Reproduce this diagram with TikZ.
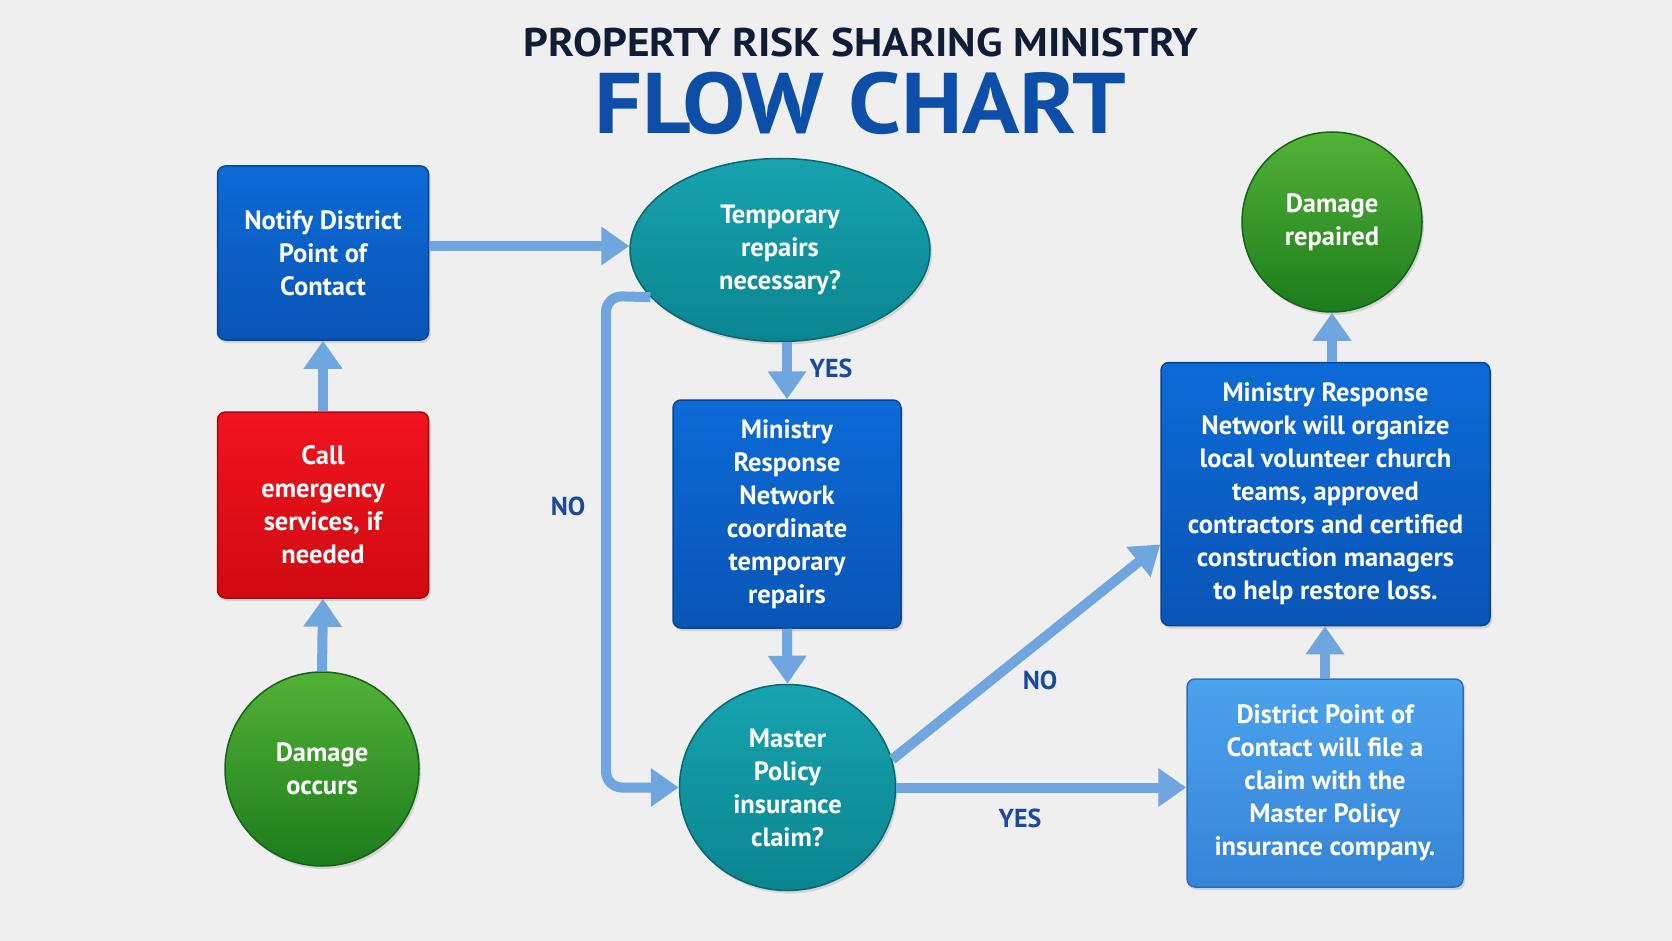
\documentclass[tikz,border=0pt]{standalone}
\usepackage{fontspec}
\setmainfont{PT Sans}
\usetikzlibrary{arrows.meta,shapes.geometric,shadows,calc}
\definecolor{bg}{HTML}{EFEFEF}
\definecolor{arrowc}{HTML}{6FA6E0}
\definecolor{lblc}{HTML}{1A4AA0}
\definecolor{titlea}{HTML}{0F1E36}
\definecolor{titleb}{HTML}{0D4FA8}
\definecolor{bluetop}{HTML}{0C6AD6}
\definecolor{bluebot}{HTML}{0A55B6}
\definecolor{blueedge}{HTML}{0A4592}
\definecolor{ltop}{HTML}{4CA2EC}
\definecolor{lbot}{HTML}{3584D8}
\definecolor{ledge}{HTML}{2A6EC0}
\definecolor{redtop}{HTML}{F0141E}
\definecolor{redbot}{HTML}{D00A12}
\definecolor{rededge}{HTML}{A80810}
\definecolor{greentop}{HTML}{52B236}
\definecolor{greenbot}{HTML}{1C7C1C}
\definecolor{greenedge}{HTML}{17621A}
\definecolor{tealtop}{HTML}{17A3AE}
\definecolor{tealbot}{HTML}{0A8590}
\definecolor{tealedge}{HTML}{086870}
\tikzset{
  txt/.style={text=white, font=\bfseries\fontsize{26.5}{33}\selectfont, align=center},
  shad/.style={drop shadow={opacity=0.25, shadow xshift=2pt, shadow yshift=-3pt}},
  bluebox/.style={txt, shad, rectangle, rounded corners=8pt, draw=blueedge, line width=1.5pt, top color=bluetop, bottom color=bluebot},
  lightbox/.style={txt, shad, rectangle, rounded corners=8pt, draw=ledge, line width=1.5pt, top color=ltop, bottom color=lbot},
  redbox/.style={txt, shad, rectangle, rounded corners=8pt, draw=rededge, line width=1.5pt, top color=redtop, bottom color=redbot},
  greencirc/.style={txt, shad, circle, draw=greenedge, line width=1.5pt, top color=greentop, bottom color=greenbot},
  tealell/.style={txt, shad, ellipse, draw=tealedge, line width=1.5pt, top color=tealtop, bottom color=tealbot, inner sep=0pt},
  conn/.style={draw=arrowc, line width=10pt, -{Triangle[width=37pt,length=28pt]}},
  lbl/.style={text=lblc, font=\bfseries\fontsize{26}{30}\selectfont}
}
\begin{document}
\begin{tikzpicture}[x=1pt,y=-1pt]
\fill[bg] (0,0) rectangle (1672,941);
\useasboundingbox (0,0) rectangle (1672,941);
% titles
\node[text=titlea, font=\bfseries\fontsize{40}{44}\selectfont] (t1) at (861,43) {\scalebox{1.085}[1]{PROPERTY RISK SHARING MINISTRY}};
\node[text=titleb, font=\bfseries\fontsize{86}{90}\selectfont] (t2) at (860,103) {\scalebox{1.1}[1]{FLOW CHART}};
% nodes
\node[bluebox, minimum width=211pt, minimum height=174pt] (notify) at (323,253) {Notify District\\Point of\\Contact};
\node[redbox, minimum width=211pt, minimum height=186pt] (call) at (323,505) {Call\\emergency\\services, if\\needed};
\node[greencirc, minimum size=194pt] (occurs) at (322,769) {Damage\\occurs};
\node[tealell, minimum width=300pt, minimum height=183pt] (temp) at (780,250) {Temporary\\repairs\\necessary?};
\node[bluebox, minimum width=228pt, minimum height=228pt] (ministry) at (787,514) {Ministry\\Response\\Network\\coordinate\\temporary\\repairs};
\node[tealell, minimum width=216pt, minimum height=206pt] (master) at (787.5,787.5) {Master\\Policy\\insurance\\claim?};
\node[greencirc, minimum size=180pt] (repaired) at (1332,222) {Damage\\repaired};
\node[bluebox, minimum width=329pt, minimum height=263pt] (mrn) at (1325.5,494) {Ministry Response\\Network will organize\\local volunteer church\\teams, approved\\contractors and certified\\construction managers\\to help restore loss.};
\node[lightbox, minimum width=276pt, minimum height=208pt] (district) at (1325,783) {District Point of\\Contact will file a\\claim with the\\Master Policy\\insurance company.};
% connectors
\draw[conn] (occurs.north) -- (call.south);
\draw[conn] (call.north) -- (notify.south);
\draw[conn] (notify.east |- 0,246) -- (temp.west |- 0,246);
\draw[conn] (ministry.north |- temp.south) -- (ministry.north);
\draw[conn] (ministry.south) -- (master.north);
\draw[conn, rounded corners=16pt] (temp.200) -- (606,296) |- (master.west);
\draw[conn] (master.15) -- (mrn.197);
\draw[conn] (master.east) -- (master.east -| district.west);
\draw[conn] (district.north) -- (district.north |- mrn.south);
\draw[conn] (mrn.north -| repaired.south) -- (repaired.south);
% labels
\node[lbl] (yes1) at (831,368) {YES};
\node[lbl] (no1) at (568,506) {NO};
\node[lbl] (no2) at (1040,680) {NO};
\node[lbl] (yes2) at (1020,818) {YES};
\end{tikzpicture}
\end{document}
